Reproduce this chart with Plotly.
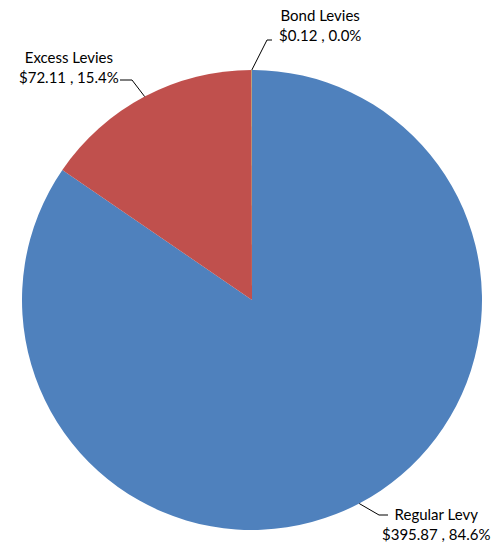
import math
import plotly.graph_objects as go

# Levy breakdown (dollar amounts)
labels = ["Regular Levy", "Excess Levies", "Bond Levies"]
values = [395.87, 72.11, 0.12]
colors = ["#4F81BD", "#C0504D", "#9BBB59"]

W, H = 495, 547
# pie placement in pixels
CX, CY, R = 252, 300, 230

total = sum(values)
pcts = [v / total * 100 for v in values]


def px(x):
    return x / W


def py(y):
    return 1 - y / H


fig = go.Figure(
    go.Pie(
        labels=labels,
        values=values,
        marker=dict(colors=colors, line=dict(width=0)),
        sort=False,
        direction="clockwise",
        rotation=0,
        textinfo="none",
        showlegend=False,
        domain=dict(x=[px(CX - R), px(CX + R)], y=[py(CY + R), py(CY - R)]),
    )
)

# label block centres and the elbow/end points of each leader line (pixels)
label_pos = [(436, 524), (69, 67), (320, 25)]
elbows = [(379, 515), (132, 80), (267, 40)]
ends = [(388, 515), (120, 80), (272, 40)]

cum = 0.0
for i, (lab, v, p) in enumerate(zip(labels, values, pcts)):
    mid = (cum + v / 2) / total * 2 * math.pi
    cum += v
    sx = CX + R * math.sin(mid)
    sy = CY - R * math.cos(mid)
    ex, ey = elbows[i]
    tx, ty = ends[i]
    fig.add_shape(
        type="path",
        xref="paper",
        yref="paper",
        path=f"M {px(sx)} {py(sy)} L {px(ex)} {py(ey)} L {px(tx)} {py(ty)}",
        line=dict(color="#000000", width=1),
    )
    lx, ly = label_pos[i]
    fig.add_annotation(
        x=px(lx),
        y=py(ly),
        xref="paper",
        yref="paper",
        text=f"{lab}<br>${v:.2f} , {p:.1f}%",
        showarrow=False,
        xanchor="center",
        yanchor="middle",
        align="center",
        font=dict(family="Lato, Open Sans, sans-serif", size=15, color="#000000"),
    )

fig.update_layout(
    width=W,
    height=H,
    margin=dict(l=0, r=0, t=0, b=0),
    paper_bgcolor="white",
    plot_bgcolor="white",
)

fig.write_html("out.html")
